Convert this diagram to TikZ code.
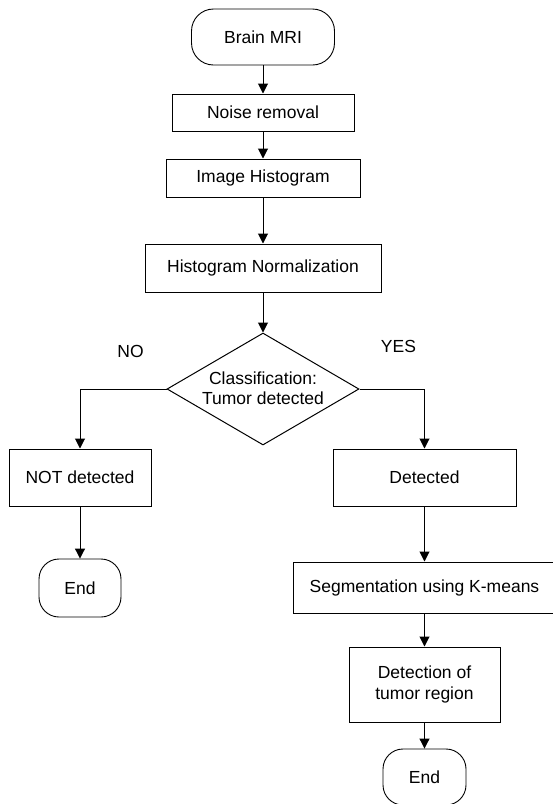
\documentclass[tikz,border=0pt]{standalone}
\usepackage{fontspec}
\setmainfont{Liberation Sans}
\usetikzlibrary{shapes.geometric,arrows.meta}
\begin{document}
\begin{tikzpicture}[x=1pt,y=-1pt,
  every node/.style={font=\fontsize{17.5}{20.5}\selectfont, text=black},
  procbox/.style={draw=black, line width=1pt, rectangle, inner sep=0pt, align=center},
  termbox/.style={draw=black, line width=0.9pt, rectangle, rounded corners=22pt, inner sep=0pt},
  arr/.style={draw=black, line width=1pt, -{Triangle[length=10pt,width=10pt]}},
  lbl/.style={inner sep=0pt}
]
\useasboundingbox (0,0) rectangle (553,804);
\fill[white] (0,0) rectangle (553,804);

\node[termbox, minimum width=143pt, minimum height=56pt] (mri) at (263,37) {Brain MRI};
\node[procbox, minimum width=182pt, minimum height=37pt] (noise) at (263,112.5) {Noise removal};
\node[procbox, minimum width=194pt, minimum height=38pt] (hist) at (263,178) {Image Histogram};
\node[procbox, minimum width=236pt, minimum height=48pt] (norm) at (263,268) {Histogram Normalization};
\node[diamond, draw=black, line width=1pt, inner sep=0pt, minimum width=192pt, minimum height=112pt] (dec) at (263,389) {};
\node[lbl, align=center] (dectext) at (263,388) {Classification:\\Tumor detected};

\node[procbox, minimum width=142pt, minimum height=57pt] (notdet) at (80,477.5) {NOT detected};
\node[procbox, minimum width=183pt, minimum height=57pt] (det) at (424.5,477.5) {Detected};
\node[termbox, rounded corners=20pt, minimum width=82pt, minimum height=58pt] (end1) at (80,588) {End};
\node[procbox, minimum width=263pt, minimum height=51pt] (seg) at (424.5,587.5) {Segmentation using K-means};
\node[procbox, minimum width=151pt, minimum height=75pt] (detect) at (424.5,684.5) {Detection of\\tumor region};
\node[termbox, rounded corners=20pt, minimum width=83pt, minimum height=56pt] (end2) at (424.5,777) {End};

\node[lbl] (no) at (130.5,351) {NO};
\node[lbl] (yes) at (398.5,346) {YES};

\draw[arr] (mri) -- (noise);
\draw[arr] (noise) -- (hist);
\draw[arr] (hist) -- (norm);
\draw[arr] (norm) -- (dec);
\draw[arr] (dec.west) -| (notdet.north);
\draw[arr] (dec.east) -| (det.north);
\draw[arr] (notdet) -- (end1);
\draw[arr] (det) -- (seg);
\draw[arr] (seg) -- (detect);
\draw[arr] (detect) -- (end2);
\end{tikzpicture}
\end{document}
